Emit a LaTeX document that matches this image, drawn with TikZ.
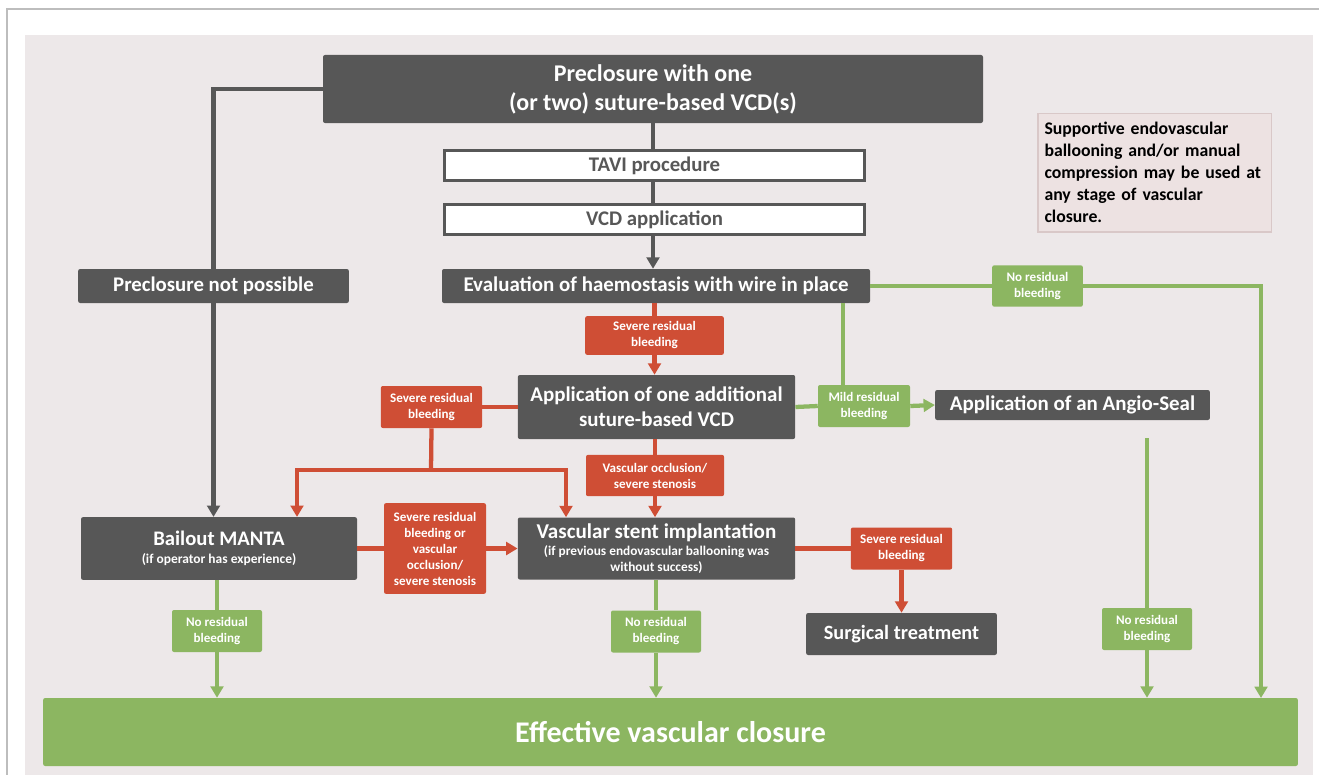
\documentclass[tikz,border=0pt]{standalone}
\usepackage{fontspec}
\setmainfont{Carlito}
\usetikzlibrary{arrows.meta, positioning, calc}
\definecolor{boxGray}{HTML}{575757}
\definecolor{flowRed}{HTML}{CF4E35}
\definecolor{flowGreen}{HTML}{8CB661}
\definecolor{paneBg}{HTML}{EDE8E9}
\definecolor{noteFill}{HTML}{EDE2E2}
\definecolor{noteEdge}{HTML}{D9C8C8}
\definecolor{frameGray}{HTML}{BDBDBD}
\newcommand{\fsz}[2]{\fontsize{#1}{#2}\selectfont\bfseries}

\begin{document}
\begin{tikzpicture}[x=0.75pt, y=-0.75pt,
  darkbox/.style={fill=boxGray, text=white, rounded corners=1.5pt, align=center, inner sep=0pt},
  openbox/.style={fill=white, draw=boxGray, line width=2.4pt, text=boxGray, align=center, inner sep=0pt,
    minimum width=315pt, minimum height=22.5pt, font=\fsz{15.6}{18}},
  redtag/.style={fill=flowRed, text=white, rounded corners=1.5pt, align=center, inner sep=0pt,
    font=\fsz{9.8}{12}},
  greentag/.style={fill=flowGreen, text=white, rounded corners=1.5pt, align=center, inner sep=0pt,
    font=\fsz{9.8}{12}, minimum width=67.5pt, minimum height=31.5pt},
  darkline/.style={draw=boxGray, line width=3.2pt},
  redline/.style={draw=flowRed, line width=3.2pt},
  greenline/.style={draw=flowGreen, line width=3.2pt},
  tip/.style={-{Triangle[width=9.5pt, length=8.5pt]}}]
  \useasboundingbox (0,0) rectangle (1319,774);
  \fill[paneBg] (25,35) rectangle (1313,780);
  \draw[frameGray, line width=1.2pt] (7,800) -- (7,9) -- (1340,9);

  % main column
  \node[darkbox, minimum width=495pt, minimum height=51pt, font=\fsz{18}{21.75}] (title) at (653,89)
    {Preclosure with one\\(or two) suture-based VCD(s)};
  \node[openbox] (tavi) at (654.5,165.5) {TAVI procedure};
  \node[openbox] (vcdapp) at (654.5,219.5) {VCD application};
  \node[darkbox, minimum width=321pt, minimum height=25.5pt, font=\fsz{15.7}{18}] (evalh) at (656,286)
    {Evaluation of haemostasis with wire in place};
  \node[darkbox, minimum width=203pt, minimum height=25.5pt, font=\fsz{15.6}{18}] (notpos) at (213.5,286)
    {Preclosure not possible};
  \node[fill=noteFill, draw=noteEdge, line width=1pt, minimum width=175pt, minimum height=89pt,
    text width=165pt, align=left, inner sep=0pt, font=\fsz{13.3}{16.5}] (note) at (1154.5,172.5)
    {Supportive endovascular\\ballooning and/or manual\\compression may be used at\\any stage of vascular\\closure.};

  \node[redtag, minimum width=104pt, minimum height=29pt] (sev1) at (654.5,335.5) {Severe residual\\bleeding};
  \node[darkbox, minimum width=208pt, minimum height=48pt, font=\fsz{15.7}{18.75}] (addvcd) at (656.5,407)
    {Application of one additional\\suture-based VCD};
  \node[redtag, minimum width=76pt, minimum height=31.5pt] (sev2) at (431.5,407) {Severe residual\\bleeding};
  \node[greentag, minimum width=69pt] (mild) at (864,406) {Mild residual\\bleeding};
  \node[darkbox, minimum width=206pt, minimum height=22.5pt, font=\fsz{15.7}{18}] (angio) at (1072.5,405)
    {Application of an Angio-Seal};
  \node[redtag, minimum width=103.5pt, minimum height=31pt] (occl) at (655,475.5) {Vascular occlusion/\\severe stenosis};

  \node[darkbox, align=flush center, minimum width=208pt, minimum height=46.5pt, text width=208pt,
    font=\fsz{15.8}{18}] (stent) at (656.5,548.5)
    {Vascular stent implantation\par\vskip 1pt
     \fsz{10}{12}(if previous endovascular ballooning was\\without success)\par};
  \node[redtag, minimum width=76.5pt, minimum height=68pt] (sev3) at (435,548.5)
    {Severe residual\\bleeding or\\vascular\\occlusion/\\severe stenosis};
  \node[darkbox, align=flush center, minimum width=207pt, minimum height=47pt, text width=207pt,
    font=\fsz{15.5}{18}] (manta) at (219,548.5)
    {Bailout MANTA\par\vskip 1.5pt
     \fsz{10.1}{12}(if operator has experience)\par};
  \node[redtag, minimum width=76pt, minimum height=31.5pt] (sev4) at (901.5,548.5) {Severe residual\\bleeding};
  \node[darkbox, minimum width=143pt, minimum height=31.5pt, font=\fsz{15.2}{18}] (surg) at (901.5,634)
    {Surgical treatment};

  \node[greentag, minimum width=68pt, minimum height=31pt] (nob0) at (1037.5,286) {No residual\\bleeding};
  \node[greentag] (nob1) at (217,631) {No residual\\bleeding};
  \node[greentag] (nob2) at (656,631.5) {No residual\\bleeding};
  \node[greentag] (nob3) at (1147,629) {No residual\\bleeding};
  \node[fill=flowGreen, text=white, rounded corners=1.5pt, inner sep=0pt, minimum width=941pt,
    minimum height=51pt, font=\fsz{22.5}{26}] (effclose) at (670.5,732) {Effective vascular closure};

  % spare corner points
  \coordinate (rdrop) at (1261,698);
  \coordinate (evtap) at (843,303);
  \coordinate (angtap) at (1147,438);
  \coordinate (split) at (431,470);
  \coordinate (lsplit) at (297,470);
  \coordinate (rsplit) at (566,470);

  % dark connectors
  \draw[darkline] (title.west) -| (notpos.north);
  \draw[darkline, tip] (notpos.south) -- (notpos.south |- manta.north);
  \draw[darkline] (title.south) -- (title.south |- tavi.north);
  \draw[darkline] (title.south |- tavi.south) -- (title.south |- vcdapp.north);
  \draw[darkline, tip] (title.south |- vcdapp.south) -- (title.south |- evalh.north);

  % red connectors
  \draw[redline] (evalh.south -| sev1.north) -- (sev1.north);
  \draw[redline, tip] (sev1.south) -- (sev1.south |- addvcd.north);
  \draw[redline] (addvcd.west) -- (sev2.east);
  \draw[redline] (sev2.south) -- (split);
  \draw[redline, tip] (split) -- (lsplit) -- (lsplit |- manta.north);
  \draw[redline, tip] (split) -- (rsplit) -- (rsplit |- stent.north);
  \draw[redline] (addvcd.south -| occl.north) -- (occl.north);
  \draw[redline, tip] (occl.south) -- (occl.south |- stent.north);
  \draw[redline] (manta.east) -- (sev3.west);
  \draw[redline, tip] (sev3.east) -- (stent.west);
  \draw[redline] (stent.east) -- (sev4.west);
  \draw[redline, tip] (sev4.south) -- (surg.north);

  % green connectors
  \draw[greenline] (evalh.east) -- (nob0.west);
  \draw[greenline, tip] (nob0.east) -| (rdrop);
  \draw[greenline] (evtap) -- (evtap |- mild.north);
  \draw[greenline] (addvcd.east) -- (mild.west);
  \draw[greenline, tip] (mild.east) -- (angio.west);
  \draw[greenline] (angtap) -- (nob3.north);
  \draw[greenline, tip] (nob3.south) -- (nob3.south |- effclose.north);
  \draw[greenline] (nob1.north |- manta.south) -- (nob1.north);
  \draw[greenline, tip] (nob1.south) -- (nob1.south |- effclose.north);
  \draw[greenline] (stent.south -| nob2.north) -- (nob2.north);
  \draw[greenline, tip] (nob2.south) -- (nob2.south |- effclose.north);
\end{tikzpicture}
\end{document}
